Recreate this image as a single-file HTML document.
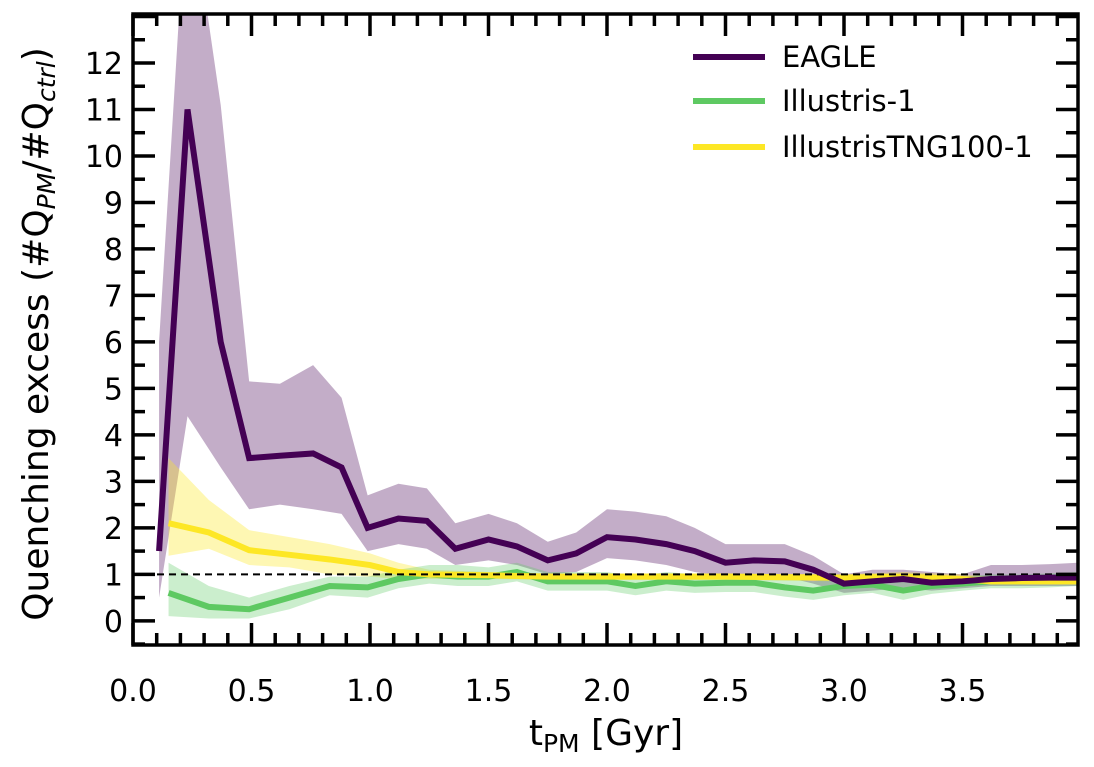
<!DOCTYPE html>
<html><head><meta charset="utf-8"><style>
html,body{margin:0;padding:0;background:#fff;}
svg{display:block;font-family:"DejaVu Sans","Liberation Sans",sans-serif;}
</style></head><body>
<svg id="chart" width="1094" height="767" viewBox="0 0 1094 767" xmlns="http://www.w3.org/2000/svg">
<g id="bands"></g>
<g id="lines"></g>
<g id="axes"></g>
<g id="legend"></g>
</svg>
<script>
const eagleX=[0.11,0.23,0.37,0.49,0.62,0.76,0.88,0.99,1.12,1.24,1.36,1.5,1.62,1.75,1.87,2.0,2.12,2.25,2.37,2.5,2.62,2.75,2.87,3.0,3.12,3.25,3.37,3.5,3.62,3.75,3.87,3.99];
const eagleY=[1.5,11,6,3.5,3.55,3.6,3.3,2.0,2.2,2.15,1.55,1.75,1.6,1.3,1.45,1.8,1.75,1.65,1.5,1.25,1.3,1.28,1.1,0.8,0.85,0.9,0.82,0.85,0.9,0.92,0.93,0.93];
const eagleHi=[6.0,16,11.1,5.15,5.1,5.5,4.8,2.7,2.95,2.85,2.1,2.3,2.1,1.7,1.9,2.4,2.35,2.25,2.0,1.65,1.65,1.65,1.4,1.0,1.1,1.1,1.05,1.0,1.2,1.2,1.22,1.25];
const eagleLo=[0.5,4.4,3.3,2.4,2.5,2.4,2.3,1.5,1.65,1.55,1.2,1.3,1.2,1.0,1.05,1.35,1.3,1.2,1.05,0.95,0.95,0.95,0.8,0.6,0.65,0.7,0.65,0.7,0.75,0.75,0.75,0.75];

const tngX=[0.15,0.32,0.49,0.66,0.83,1.0,1.12,1.25,1.5,1.75,2.0,2.5,3.0,3.25,3.5,3.62,3.75,3.99];
const tngY=[2.1,1.9,1.52,1.42,1.32,1.2,1.05,1.0,0.98,0.95,0.95,0.95,0.93,0.95,0.9,0.85,0.85,0.85];
const tngHi=[3.5,2.6,1.95,1.8,1.65,1.45,1.25,1.1,1.05,1.02,1.02,1.02,1.0,1.05,1.0,0.95,0.95,0.95];
const tngLo=[1.4,1.55,1.2,1.15,1.0,0.95,0.9,0.9,0.9,0.88,0.88,0.88,0.85,0.85,0.8,0.78,0.78,0.78];

const ill1X=[0.15,0.32,0.49,0.66,0.83,0.99,1.12,1.25,1.37,1.5,1.62,1.75,1.87,2.0,2.12,2.25,2.37,2.5,2.62,2.75,2.87,3.0,3.12,3.25,3.37,3.5,3.62,3.75,3.87,3.99];
const ill1Y=[0.6,0.3,0.25,0.5,0.75,0.72,0.9,1.0,0.95,0.95,1.05,0.85,0.85,0.85,0.75,0.85,0.8,0.82,0.82,0.72,0.65,0.75,0.78,0.65,0.75,0.8,0.85,0.85,0.88,0.9];
const ill1Hi=[1.25,0.75,0.5,0.75,0.95,0.95,1.1,1.2,1.2,1.15,1.25,1.05,1.05,1.05,0.95,1.05,1.0,1.0,1.0,0.92,0.85,0.95,0.95,0.85,0.92,0.95,1.0,1.0,1.02,1.05];
const ill1Lo=[0.1,0.05,0.05,0.25,0.55,0.5,0.7,0.8,0.75,0.75,0.85,0.65,0.65,0.65,0.55,0.65,0.6,0.62,0.62,0.52,0.45,0.55,0.6,0.45,0.58,0.65,0.7,0.7,0.72,0.75];

const xTicks=[0,0.5,1.0,1.5,2.0,2.5,3.0,3.5];
const xTickLabels=["0.0","0.5","1.0","1.5","2.0","2.5","3.0","3.5"];
const yTicks=[0,1,2,3,4,5,6,7,8,9,10,11,12];

const L=133,R=1078,T=14,B=645;
const X0=0,X1=(R-L)/237;
const Y0=-0.52,Y1=(621-T)/46.5;
const sx=v=>L+(v-X0)/(X1-X0)*(R-L);
const sy=v=>B-(v-Y0)/(Y1-Y0)*(B-T);
const NS="http://www.w3.org/2000/svg";
function mk(tag,attrs,parent){const e=document.createElementNS(NS,tag);for(const k in attrs)e.setAttribute(k,attrs[k]);parent.appendChild(e);return e;}

const svg=document.getElementById('chart');
const defs=mk('defs',{},svg);
const cp=mk('clipPath',{id:'clip'},defs);
mk('rect',{x:L,y:T,width:R-L,height:B-T},cp);
const bands=document.getElementById('bands');bands.setAttribute('clip-path','url(#clip)');
const lines=document.getElementById('lines');lines.setAttribute('clip-path','url(#clip)');

function band(xs,hi,lo,color,op,name){
  let d='M'+xs.map((x,i)=>sx(x)+','+sy(hi[i])).join('L');
  for(let i=xs.length-1;i>=0;i--)d+='L'+sx(xs[i])+','+sy(lo[i]);
  const p=mk('path',{d:d+'Z',fill:color,'fill-opacity':op},bands);
  
  
}
function line(xs,ys,color,name){
  const p=mk('polyline',{points:xs.map((x,i)=>sx(x)+','+sy(ys[i])).join(' '),fill:'none',stroke:color,'stroke-width':6,'stroke-linejoin':'miter'},lines);
  
  
}
band(eagleX,eagleHi,eagleLo,'#440154',0.32,'eagle-band');
band(tngX,tngHi,tngLo,'#fde725',0.35,'tng-band');
band(ill1X,ill1Hi,ill1Lo,'#5ec962',0.32,'illustris-band');
line(ill1X,ill1Y,'#5ec962','illustris-line');
line(tngX,tngY,'#fde725','tng-line');
const ref=mk('line',{x1:L,x2:R,y1:sy(1),y2:sy(1),stroke:'#000','stroke-width':2,'stroke-dasharray':'7,5'},lines);


line(eagleX,eagleY,'#440154','eagle-line');

const axes=document.getElementById('axes');
for(let v=0;v<=X1+1e-9;v+=0.1){
  const major=Math.abs(v*2-Math.round(v*2))<1e-6;
  const len=major?22:12;const x=sx(v);
  mk('line',{x1:x,x2:x,y1:B,y2:B-len,stroke:'#000','stroke-width':3.5},axes);
  mk('line',{x1:x,x2:x,y1:T,y2:T+len,stroke:'#000','stroke-width':3.5},axes);
}
xTicks.forEach((v,i)=>{
  const t=mk('text',{x:sx(v),y:B+56,'font-size':30,'text-anchor':'middle',fill:'#000'},axes);
  t.textContent=xTickLabels[i];
  
  
});
for(let v=-0.5;v<=Y1;v+=0.5){
  const major=Math.abs(v-Math.round(v))<1e-6;
  const len=major?22:12;const y=sy(v);
  mk('line',{x1:L,x2:L+len,y1:y,y2:y,stroke:'#000','stroke-width':3.5},axes);
  mk('line',{x1:R,x2:R-len,y1:y,y2:y,stroke:'#000','stroke-width':3.5},axes);
}
yTicks.forEach(v=>{
  const t=mk('text',{x:L-10,y:sy(v)+11,'font-size':30,'text-anchor':'end',fill:'#000'},axes);
  t.textContent=String(v);
  
  
});
mk('rect',{x:L,y:T,width:R-L,height:B-T,fill:'none',stroke:'#000','stroke-width':3.5},axes);

const xl=mk('text',{x:606,y:745,'font-size':36,'text-anchor':'middle',fill:'#000'},axes);
xl.innerHTML='t<tspan font-size="25" dy="7">PM</tspan><tspan dy="-7"> [Gyr]</tspan>';


const yl=mk('text',{x:0,y:0,'font-size':36,'text-anchor':'middle',fill:'#000',transform:'translate(48,334) rotate(-90)'},axes);
yl.innerHTML='Quenching excess (#Q<tspan font-size="25" font-style="italic" dy="7">PM</tspan><tspan dy="-7">/#Q</tspan><tspan font-size="25" font-style="italic" dy="7">ctrl</tspan><tspan dy="-7">)</tspan>';



const legend=document.getElementById('legend');
const legNames=['EAGLE','Illustris-1','IllustrisTNG100-1'];
const legColors=['#440154','#5ec962','#fde725'];
const legY=[57,101,147];
legNames.forEach((n,i)=>{
  const g=mk('g',{},legend);
  
  
  mk('line',{x1:693,x2:765,y1:legY[i],y2:legY[i],stroke:legColors[i],'stroke-width':6},g);
  const t=mk('text',{x:782,y:legY[i]+10,'font-size':29,fill:'#000'},g);
  t.textContent=n;
});
</script>
</body></html>
